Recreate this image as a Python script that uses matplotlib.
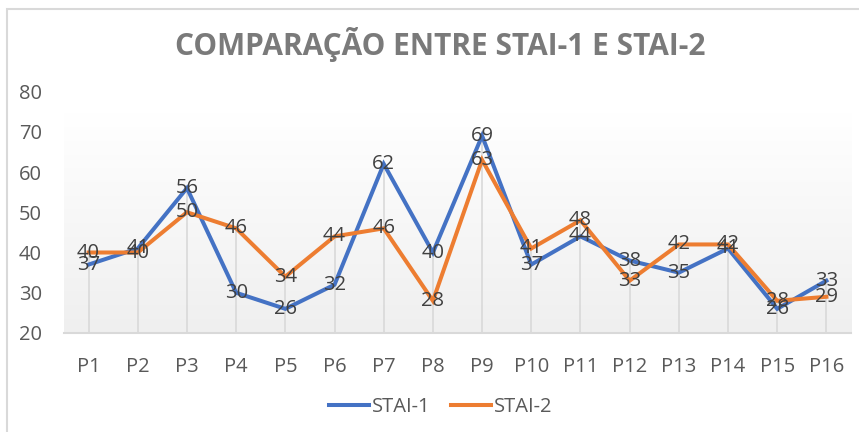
import numpy as np
import matplotlib.pyplot as plt
from matplotlib.colors import LinearSegmentedColormap
from matplotlib.patches import Rectangle

plt.rcParams['font.family'] = ['Open Sans', 'DejaVu Sans']

participants = [f'P{i}' for i in range(1, 17)]
stai_1 = [37, 41, 56, 30, 26, 32, 62, 40, 69, 37, 44, 38, 35, 41, 26, 33]
stai_2 = [40, 40, 50, 46, 34, 44, 46, 28, 63, 41, 48, 33, 42, 42, 28, 29]
y_ticks = [20, 30, 40, 50, 60, 70, 80]

blue = '#4472C4'
orange = '#ED7D31'
text_col = '#595959'
label_col = '#404040'

fig = plt.figure(figsize=(8.59, 4.32), dpi=100)
fig.patches.append(Rectangle((7 / 859, -0.1), 1.0, (432 - 9) / 432 + 0.1,
                             transform=fig.transFigure, fill=False,
                             edgecolor='#d9d9d9', linewidth=1.5))
ax = fig.add_axes([64 / 859, 99 / 432, (851 - 64) / 859, (333 - 91.5) / 432])

x = np.arange(len(participants))

# gradient fill of the plot area
grad = np.linspace(1, 0, 256).reshape(-1, 1)
cmap = LinearSegmentedColormap.from_list('bg', ['#efefef', '#ffffff'])
ax.imshow(grad, cmap=cmap, aspect='auto', extent=(-0.5, len(x) - 0.5, 20, 74.5),
          origin='upper', zorder=0)

# drop lines
tops = np.maximum(stai_1, stai_2)
ax.vlines(x, 20, tops, color='#d9d9d9', linewidth=1.2, zorder=1)

ax.plot(x, stai_1, color=blue, linewidth=2.9, label='STAI-1', zorder=3,
        solid_joinstyle='miter')
ax.plot(x, stai_2, color=orange, linewidth=2.9, label='STAI-2', zorder=3,
        solid_joinstyle='miter')

for xi, a, b in zip(x, stai_1, stai_2):
    for v in (a, b):
        ax.text(xi, v, str(v), ha='center', va='center', fontsize=14.5,
                color=label_col, zorder=4)

ax.set_xlim(-0.5, len(x) - 0.5)
ax.set_ylim(20, 80)
ax.set_yticks(y_ticks)
ax.set_xticks(x)
ax.set_xticklabels(participants)
ax.tick_params(axis='both', length=0, labelsize=14.5, colors=text_col)
ax.tick_params(axis='y', pad=16)
ax.tick_params(axis='x', pad=17)
for s in ['top', 'right', 'left']:
    ax.spines[s].set_visible(False)
ax.spines['bottom'].set_color('#d9d9d9')
ax.spines['bottom'].set_linewidth(1.5)
ax.patch.set_alpha(0)

fig.text(440 / 859, 1 - 45 / 432, 'COMPARAÇÃO ENTRE STAI-1 E STAI-2',
         ha='center', va='center', fontsize=21.5, fontweight='bold', color='#7a7a7a')

fig.legend(loc='center', bbox_to_anchor=(441 / 859, 1 - 407 / 432), ncol=2,
           frameon=False, fontsize=14.5, labelcolor=text_col, handlelength=2.0,
           handletextpad=0.15, columnspacing=1.0)

fig.savefig('out.png', dpi=100)
